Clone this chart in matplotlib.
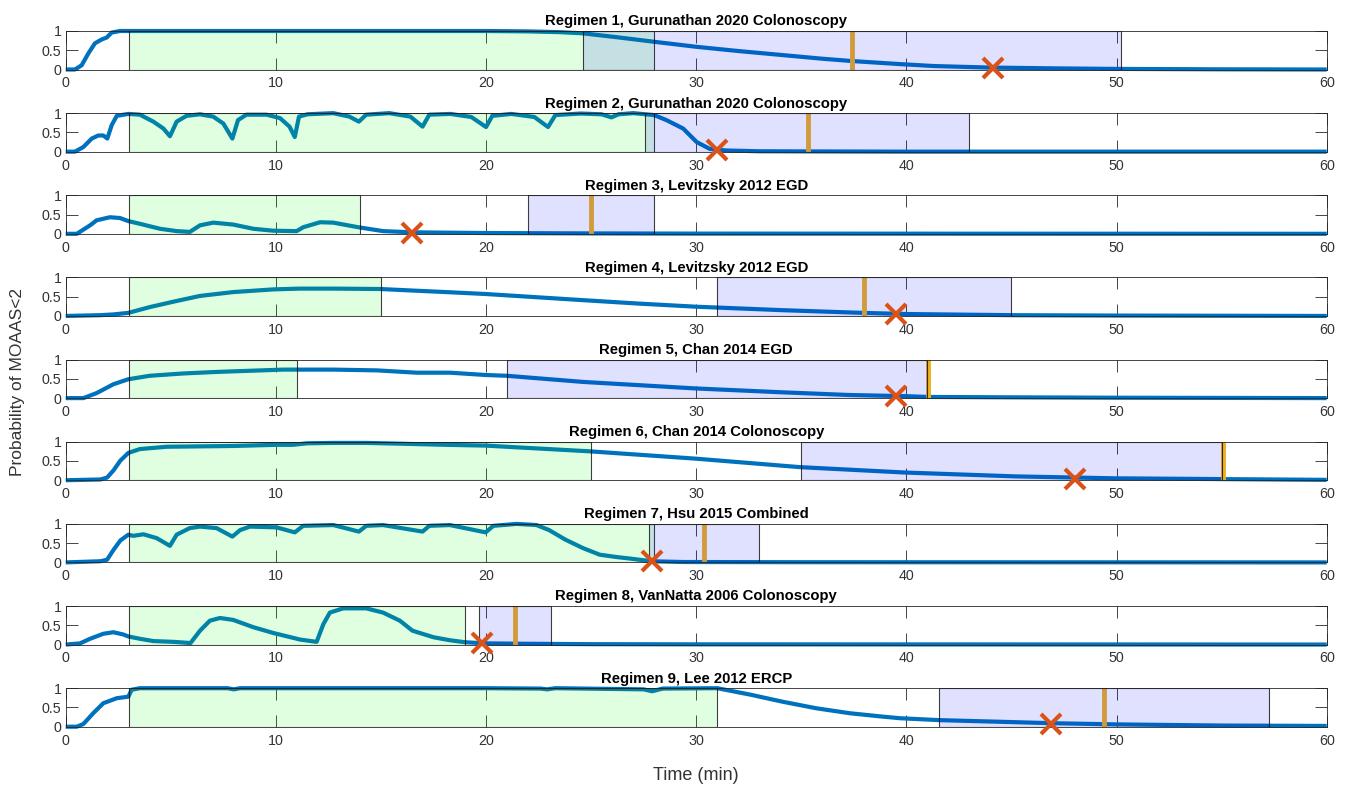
import matplotlib
matplotlib.use('Agg')
import matplotlib.pyplot as plt

plt.rcParams['font.family'] = ['Liberation Sans', 'DejaVu Sans']

# --- data (time in min, probability) ---
titles = ['Regimen 1, Gurunathan 2020 Colonoscopy',
          'Regimen 2, Gurunathan 2020 Colonoscopy',
          'Regimen 3, Levitzsky 2012 EGD',
          'Regimen 4, Levitzsky 2012 EGD',
          'Regimen 5, Chan 2014 EGD',
          'Regimen 6, Chan 2014 Colonoscopy',
          'Regimen 7, Hsu 2015 Combined',
          'Regimen 8, VanNatta 2006 Colonoscopy',
          'Regimen 9, Lee 2012 ERCP']

t1 = [0, 0.44, 0.76, 1.08, 1.39, 1.71, 1.95, 2.19, 2.58, 5, 10, 15, 20, 22, 23.5, 24.6,
      26.2, 28, 30, 32, 34, 36, 37.4, 39.7, 41.3, 44, 47, 50, 55, 60]
p1 = [0, 0, 0.11, 0.42, 0.68, 0.78, 0.83, 0.96, 1.0, 1.0, 1.0, 1.0, 1.0, 0.99, 0.97, 0.94,
      0.84, 0.72, 0.59, 0.48, 0.38, 0.28, 0.22, 0.14, 0.09, 0.05, 0.03, 0.015, 0.005, 0.0]

t2 = [0, 0.44, 0.84, 1.24, 1.55, 1.79, 1.98, 2.19, 2.43, 2.98, 3.53, 4.17, 4.65, 4.96,
      5.28, 5.75, 6.39, 7.02, 7.5, 7.93, 8.2, 8.6, 9.56, 10.2, 10.65, 10.9, 11.1, 11.5,
      12.73, 13.5, 13.95, 14.3, 15.4, 16.4, 16.98, 17.3, 18.3, 19.3, 20.0, 20.3, 21.2,
      22.3, 22.95, 23.3, 24.5, 25.5, 25.97, 26.3, 27.0, 28.0, 28.58, 29.38, 30.02, 30.65,
      31.44, 33, 36, 40, 50, 60]
p2 = [0, 0, 0.12, 0.34, 0.42, 0.42, 0.34, 0.69, 0.93, 0.98, 0.96, 0.78, 0.6, 0.4,
      0.78, 0.93, 0.97, 0.91, 0.73, 0.34, 0.82, 0.96, 0.96, 0.87, 0.65, 0.38, 0.91, 0.97,
      1.0, 0.91, 0.78, 0.96, 1.0, 0.91, 0.65, 0.96, 0.98, 0.9, 0.64, 0.93, 0.98,
      0.9, 0.64, 0.95, 0.99, 0.97, 0.89, 0.97, 1.0, 0.95, 0.82, 0.6, 0.25, 0.07,
      0.03, 0.01, 0.005, 0.0, 0.0, 0.0]

t3 = [0, 0.53, 1.16, 1.47, 2.1, 2.58, 2.98, 3.53, 4.49, 5.28, 5.91, 6.39, 7.02, 7.97,
      8.93, 9.88, 10.99, 11.3, 12.1, 12.73, 13.92, 15.1, 16.4, 18, 20, 25, 30, 60]
p3 = [0, 0, 0.22, 0.35, 0.43, 0.41, 0.33, 0.26, 0.13, 0.07, 0.05, 0.22, 0.29, 0.24,
      0.13, 0.08, 0.07, 0.17, 0.3, 0.29, 0.17, 0.07, 0.04, 0.03, 0.02, 0.01, 0.005, 0]

t4 = [0, 1.65, 2.28, 2.98, 4.0, 5.12, 6.39, 7.97, 9.88, 11.15, 12.73, 14.95, 16.5, 18.1,
      19.98, 22.3, 24.62, 27.3, 30.0, 34.1, 37.9, 40, 45, 50, 60]
p4 = [0, 0.02, 0.04, 0.08, 0.23, 0.37, 0.52, 0.62, 0.69, 0.71, 0.71, 0.70, 0.66, 0.62,
      0.57, 0.49, 0.41, 0.32, 0.24, 0.15, 0.08, 0.05, 0.02, 0.01, 0.0]

t5 = [0, 0.84, 1.47, 2.27, 2.98, 4.0, 5.6, 7.18, 8.77, 10.35, 10.98, 12.73, 14.8, 16.7,
      18.28, 19.98, 20.98, 24.62, 30.0, 34.1, 37.3, 40.0, 41.0, 45, 50, 60]
p5 = [0, 0, 0.13, 0.36, 0.49, 0.58, 0.64, 0.68, 0.71, 0.74, 0.74, 0.74, 0.72, 0.66,
      0.66, 0.6, 0.58, 0.42, 0.25, 0.15, 0.08, 0.05, 0.03, 0.02, 0.01, 0.0]

t6 = [0, 1.65, 1.97, 2.28, 2.6, 2.98, 3.53, 4.8, 7.97, 10.03, 10.8, 11.5, 12.73, 14.3,
      15.9, 18.1, 19.98, 24.97, 30.0, 34.95, 39.95, 45.2, 49.95, 55.0, 60]
p6 = [0, 0.02, 0.07, 0.26, 0.51, 0.71, 0.81, 0.87, 0.89, 0.92, 0.92, 0.96, 0.97, 0.97,
      0.95, 0.92, 0.9, 0.75, 0.56, 0.34, 0.2, 0.1, 0.05, 0.03, 0.01]

t7 = [0, 1.65, 1.97, 2.28, 2.6, 2.98, 3.22, 3.7, 4.33, 4.96, 5.28, 5.9, 6.39, 7.18,
      7.93, 8.3, 8.77, 10.03, 10.9, 11.3, 12.73, 13.95, 14.3, 15.1, 16.98, 17.3, 18.28,
      19.98, 20.35, 21.46, 22.4, 23.0, 23.78, 24.62, 25.41, 26.2, 27.0, 27.87, 29.38,
      35, 60]
p7 = [0, 0.03, 0.07, 0.33, 0.57, 0.72, 0.69, 0.73, 0.63, 0.43, 0.72, 0.89, 0.93, 0.89,
      0.67, 0.84, 0.93, 0.91, 0.78, 0.95, 0.97, 0.8, 0.95, 0.97, 0.8, 0.95, 0.97,
      0.78, 0.95, 1.0, 0.97, 0.84, 0.59, 0.37, 0.2, 0.14, 0.09, 0.03, 0.01,
      0.005, 0.0]

t8 = [0, 0.68, 1.16, 1.79, 2.27, 2.75, 2.98, 3.53, 4.17, 5.12, 5.94, 6.39, 6.86, 7.34,
      7.97, 8.93, 9.88, 11.15, 11.94, 12.26, 12.57, 13.2, 14.3, 15.1, 15.9, 16.5, 17.5,
      18.3, 19.0, 20.0, 22, 25, 30, 60]
p8 = [0, 0.03, 0.15, 0.28, 0.32, 0.26, 0.21, 0.15, 0.09, 0.07, 0.04, 0.36, 0.62, 0.69,
      0.64, 0.45, 0.3, 0.13, 0.07, 0.53, 0.83, 0.94, 0.94, 0.83, 0.62, 0.36, 0.19,
      0.11, 0.06, 0.03, 0.02, 0.01, 0.005, 0.0]

t9 = [0, 0.53, 0.84, 1.31, 1.79, 2.43, 2.98, 3.14, 3.53, 7.7, 8.0, 8.3, 15, 20, 22.6,
      22.9, 23.3, 27.5, 27.9, 28.4, 31.0, 32.6, 34.1, 35.7, 37.3, 38.9, 39.7, 41.6, 45,
      47, 50, 55, 60]
p9 = [0, 0, 0.07, 0.35, 0.61, 0.74, 0.78, 0.96, 1.0, 1.0, 0.97, 1.0, 1.0, 1.0, 0.99,
      0.97, 1.0, 0.97, 0.92, 0.99, 1.0, 0.83, 0.65, 0.48, 0.35, 0.26, 0.22, 0.17, 0.12,
      0.09, 0.06, 0.03, 0.02]

times = [t1, t2, t3, t4, t5, t6, t7, t8, t9]
probs = [p1, p2, p3, p4, p5, p6, p7, p8, p9]

green_start = [3, 3, 3, 3, 3, 3, 3, 3, 3]
green_end = [28, 28, 14, 15, 11, 25, 28, 19, 31]
blue_lo = [24.6, 27.56, 22, 31, 21, 35, 27.76, 19.68, 41.55]
blue_hi = [50.2, 43.0, 28, 45, 41, 55, 33.0, 23.09, 57.25]
mean_t = [37.4, 35.3, 25.0, 38.0, 41.05, 55.05, 30.38, 21.39, 49.4]
cross_t = [44.1, 31.0, 16.46, 39.5, 39.5, 48.0, 27.9, 19.8, 46.9]
cross_p = [0.05, 0.03, 0.02, 0.05, 0.06, 0.04, 0.03, 0.05, 0.06]

xticks = [0, 10, 20, 30, 40, 50, 60]
yticks = [0, 0.5, 1]
yticklabels = ['0', '0.5', '1']

W, H = 1348, 787
fig = plt.figure(figsize=(W / 100, H / 100), dpi=100)
dark = '#262626'

for i in range(9):
    top = 31 + 82.15 * i
    ax = fig.add_axes([65.7 / W, 1 - (top + 38.5) / H, 1261 / W, 38.5 / H])

    # curve under the translucent patches
    ax.plot(times[i], probs[i], color='#0072BD', lw=3, zorder=2, clip_on=False,
            solid_capstyle='butt')
    ax.axvline(mean_t[i], color='#EDB120', lw=3.5, zorder=2.5)
    ax.axvspan(green_start[i], green_end[i], facecolor=(0, 1, 0, 0.12),
               edgecolor=(0, 0, 0, 0.75), lw=0.8, zorder=3)
    ax.axvspan(blue_lo[i], blue_hi[i], facecolor=(0, 0, 1, 0.12),
               edgecolor=(0, 0, 0, 0.75), lw=0.8, zorder=3)
    ax.plot(cross_t[i], cross_p[i], marker='x', ms=14, mew=3, color='#D95319',
            zorder=5, clip_on=False, ls='none')

    ax.set_xlim(0, 60)
    ax.set_ylim(0, 1)
    ax.set_xticks(xticks)
    ax.set_yticks(yticks)
    ax.set_yticklabels(yticklabels)
    ax.tick_params(direction='in', length=8.5, width=0.6, color=dark,
                   labelcolor='#333333', labelsize=10.3, top=True, right=True)
    ax.tick_params(axis='x', pad=5)
    ax.tick_params(axis='y', pad=3)
    for s in ax.spines.values():
        s.set_color(dark)
        s.set_linewidth(0.6)
        s.set_zorder(4)
    ax.set_title(titles[i], fontsize=10.7, fontweight='bold', pad=4)

fig.text(18 / W, 1 - 382 / H, 'Probability of MOAAS<2', rotation=90,
         ha='center', va='center', fontsize=12.5, color='#333333')
fig.text(696 / W, 1 - 775 / H, 'Time (min)', ha='center', va='center',
         fontsize=13, color='#333333')

fig.savefig('out.png', dpi=100)
